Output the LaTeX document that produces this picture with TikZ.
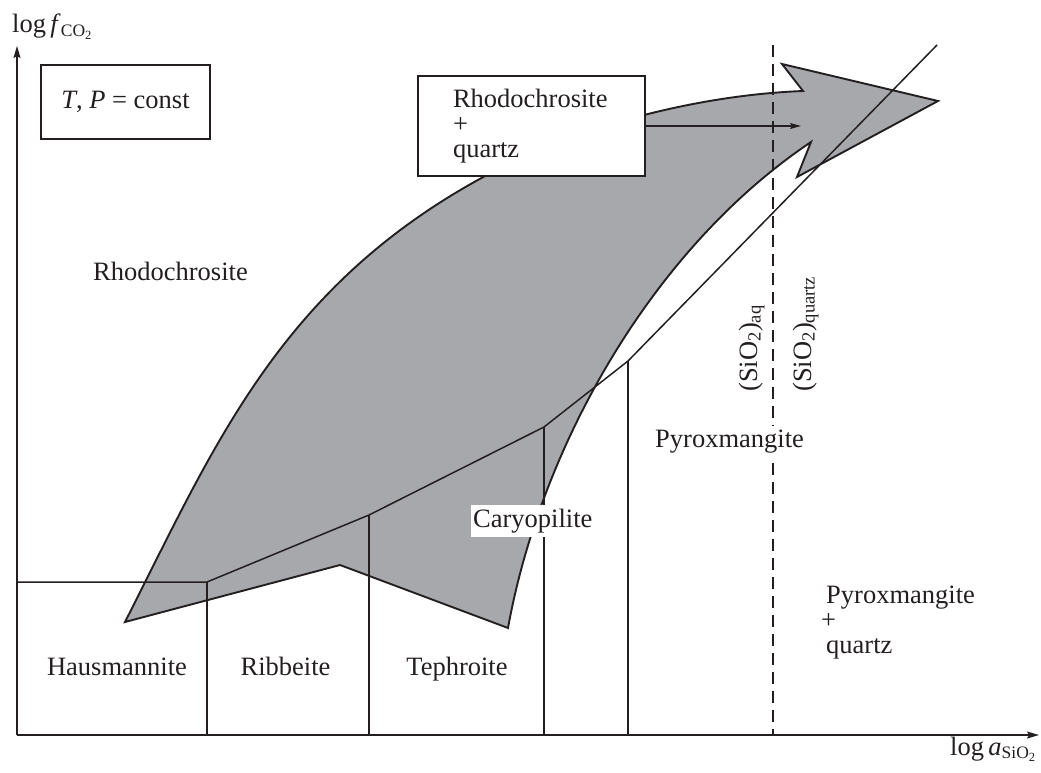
\documentclass[tikz,border=0pt]{standalone}
\usepackage{fontspec}
\setmainfont{Liberation Serif}
\usetikzlibrary{arrows.meta}
\definecolor{shade}{RGB}{167,168,172}
\definecolor{ink}{RGB}{35,31,32}
\newcommand{\mysub}[1]{\raisebox{-0.3\height}{\fontsize{17.5}{17.5}\selectfont #1}}
\newcommand{\mysubsub}[1]{\raisebox{-0.35\height}{\fontsize{12.5}{12.5}\selectfont #1}}
\begin{document}
\begin{tikzpicture}[x=1pt,y=-1pt,
  lbl/.style={font=\fontsize{26.5}{25}\selectfont, inner sep=0pt, text=ink},
  framebox/.style={draw=ink, line width=1.5pt, fill=white},
  axis/.style={draw=ink, line width=1.5pt, -{Stealth[length=12pt,width=7pt,inset=2pt]}},
  phase/.style={draw=ink, line width=1.5pt},
  region/.style={fill=shade, draw=ink, line width=1.9pt, line join=miter},
  sio/.style={draw=ink, line width=1.3pt, dash pattern=on 12pt off 7pt},
  flow/.style={draw=ink, line width=1.3pt, -{Stealth[length=11pt,width=6pt,inset=2pt]}}
]
\useasboundingbox (0,0) rectangle (1041,773);
% coordinates
\coordinate (O) at (17,735);
\coordinate (ytip) at (17,46);
\coordinate (xtip) at (1039,735);
\coordinate (h0) at (17,582);
\coordinate (p1) at (207,582);
\coordinate (p2) at (369,515);
\coordinate (p3) at (544,427);
\coordinate (p4) at (628,361);
\coordinate (p5) at (937,45);
\coordinate (b1) at (207,735);
\coordinate (b2) at (369,735);
\coordinate (b3) at (544,735);
\coordinate (b4) at (628,735);
\coordinate (d1) at (773,45);
\coordinate (d2) at (773,735);
\coordinate (qa) at (801,126);
% shaded field
\draw[region] (125,622) -- (340,565) -- (508,628)
  .. controls (540,450) and (650,250) .. (811,142)
  -- (797,177) -- (938,101) -- (782,64) -- (803,91)
  .. controls (700,95) and (580,125) .. (487,175)
  .. controls (280,286) and (215,445) .. (125,622)
  -- cycle;
% phase boundaries
\draw[phase] (h0) -- (p1) -- (p2) -- (p3) -- (p4) -- (p5);
\draw[phase] (p1) -- (b1);
\draw[phase] (p2) -- (b2);
\draw[phase] (p3) -- (b3);
\draw[phase] (p4) -- (b4);
\draw[sio] (d1) -- (d2);
% axes
\draw[axis] (O) -- (ytip);
\draw[axis] (O) -- (xtip);
% boxes
\node[lbl, framebox, minimum width=169pt, minimum height=74pt] (tp) at (125.5,102) {\textit{T}, \textit{P} = const};
\node[lbl, framebox, inner xsep=35pt, text width=157pt, minimum height=100pt, align=left] (rq) at (531.5,126) {Rhodochrosite\\+\\quartz};
\draw[flow] (rq.east) -- (qa);
% labels
\node[lbl, anchor=base west] (ylab) at (12,33) {log\,\textit{f}\mysub{CO\mysubsub{2}}};
\node[lbl, anchor=base west] (xlab) at (950,755) {log\,\textit{a}\mysub{SiO\mysubsub{2}}};
\node[lbl, anchor=base west] (rho) at (93,280) {Rhodochrosite};
\node[lbl, anchor=base] (hau) at (117,675) {Hausmannite};
\node[lbl, anchor=base] (rib) at (285.5,675) {Ribbeite};
\node[lbl, anchor=base] (tep) at (457,675) {Tephroite};
\node[lbl, anchor=base west, fill=white, inner xsep=2pt, inner ysep=4pt] (car) at (471,527) {Caryopilite};
\node[lbl, anchor=base west, fill=white, inner xsep=2pt, inner ysep=3pt] (pyx) at (653,447) {Pyroxmangite};
\node[lbl, anchor=north west, align=left] (pq) at (826,585.5) {Pyroxmangite\\\hspace*{-5pt}+\\quartz};
\node[lbl, rotate=90, anchor=base west] (aq) at (757,392) {(SiO\textsubscript{2})\textsubscript{aq}};
\node[lbl, rotate=90, anchor=base west] (qz) at (811,392) {(SiO\textsubscript{2})\textsubscript{quartz}};
\end{tikzpicture}
\end{document}
